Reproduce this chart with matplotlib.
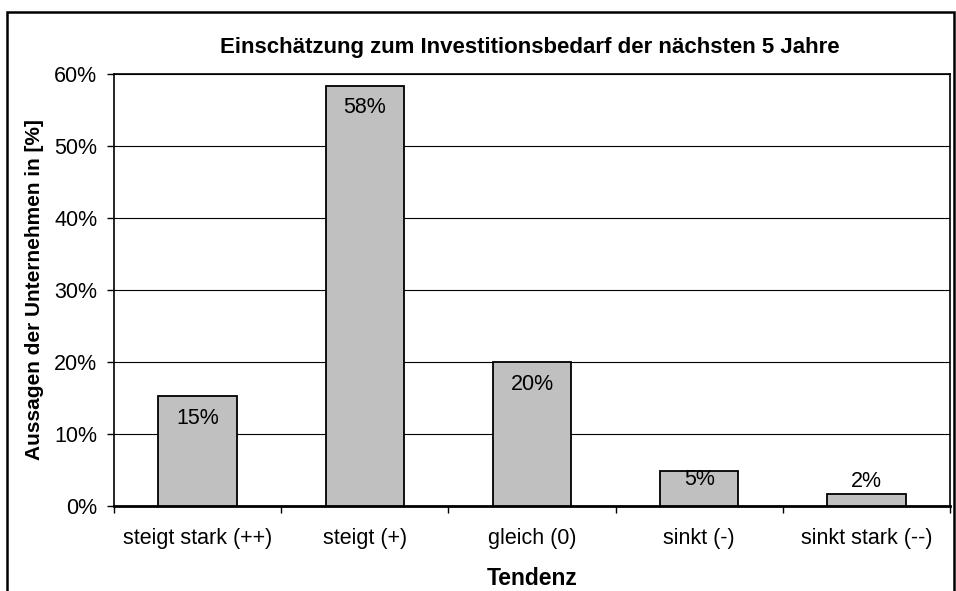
import matplotlib.pyplot as plt
import numpy as np
from matplotlib.patches import Rectangle
from matplotlib.ticker import PercentFormatter

plt.rcParams['font.family'] = ['Liberation Sans', 'DejaVu Sans']

categories = ['steigt stark (++)', 'steigt (+)', 'gleich (0)', 'sinkt (-)', 'sinkt stark (--)']
values = [15.3, 58.4, 20.0, 4.8, 1.7]
labels = ['15%', '58%', '20%', '5%', '2%']

fig = plt.figure(figsize=(9.56, 5.91), dpi=100)
ax = fig.add_axes([114/956, 1 - 506/591, (950 - 114)/956, (506 - 74)/591])

x = np.arange(len(categories))
bars = ax.bar(x, values, width=0.47, color='#c0c0c0', edgecolor='black', linewidth=1.3, zorder=3)

# value labels: inside the top of the bar, above it when the bar is too short
for b, lab in zip(bars, labels):
    h = b.get_height()
    if h > 10:
        off = -16
    elif h > 3:
        off = -6
    else:
        off = 9
    ax.annotate(lab, (b.get_x() + b.get_width()/2, h), xytext=(0, off),
                textcoords='offset points', ha='center', va='center', fontsize=15.5, zorder=4)

ax.set_xlim(-0.5, len(categories) - 0.5)
ax.set_ylim(0, 60)
ax.set_yticks(range(0, 61, 10))
ax.yaxis.set_major_formatter(PercentFormatter(decimals=0))
ax.yaxis.grid(True, color='black', linewidth=0.8, zorder=0)

ax.set_xticks(x)
ax.set_xticklabels(categories)
ax.set_xticks(np.arange(-0.5, len(categories)), minor=True)
ax.tick_params(axis='x', which='major', length=0, pad=16, labelsize=15.5)
ax.tick_params(axis='x', which='minor', length=5, width=1, direction='out')
ax.tick_params(axis='y', length=5, width=1, direction='out', pad=7, labelsize=15.5)

for s in ax.spines.values():
    s.set_linewidth(1.2)
ax.spines['bottom'].set_linewidth(2)

ax.set_xlabel('Tendenz', fontsize=16.5, fontweight='bold', labelpad=13)
ax.set_ylabel('Aussagen der Unternehmen in [%]', fontsize=15, fontweight='bold', labelpad=7)
fig.text(530/956, 1 - 47/591, 'Einschätzung zum Investitionsbedarf der nächsten 5 Jahre',
         ha='center', va='center', fontsize=16, fontweight='bold')

# outer chart frame
fig.patches.append(Rectangle((7/956, -0.05), (954 - 7)/956, 1.05 - 12/591,
                             transform=fig.transFigure, fill=False,
                             edgecolor='black', linewidth=1.8))

fig.savefig('out.png', dpi=100)
